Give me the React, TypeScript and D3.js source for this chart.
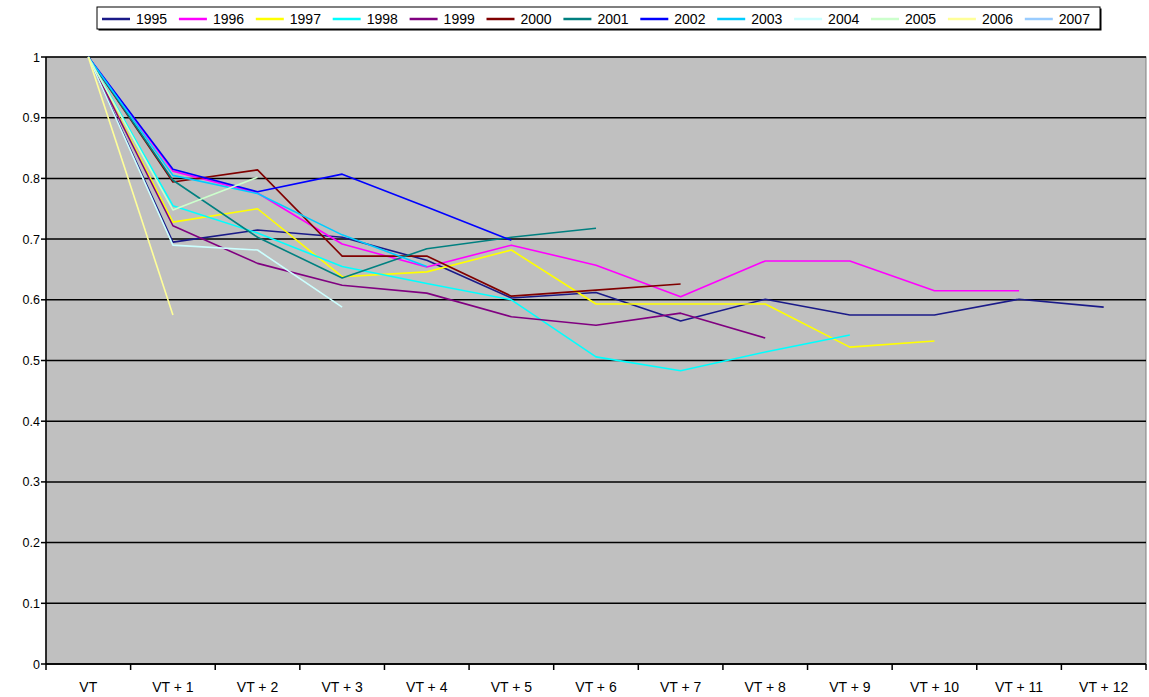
import React from "react";
import * as d3 from "d3";

const categories = ["VT", "VT+1", "VT+2", "VT+3", "VT+4", "VT+5", "VT+6", "VT+7", "VT+8", "VT+9", "VT+10", "VT+11", "VT+12"];
const years = ["1995", "1996", "1997", "1998", "1999", "2000", "2001", "2002", "2003", "2004", "2005", "2006", "2007"];
const yTicks = [0, 0.1, 0.2, 0.3, 0.4, 0.5, 0.6, 0.7, 0.8, 0.9, 1];

const s1995 = [1, 0.695, 0.715, 0.703, 0.665, 0.603, 0.612, 0.565, 0.601, 0.575, 0.575, 0.601, 0.588];
const s1996 = [1, 0.812, 0.776, 0.692, 0.654, 0.69, 0.657, 0.605, 0.664, 0.664, 0.615, 0.615];
const s1997 = [1, 0.728, 0.75, 0.638, 0.646, 0.682, 0.593, 0.593, 0.593, 0.522, 0.532];
const s1998 = [1, 0.755, 0.71, 0.655, 0.627, 0.6, 0.506, 0.483, 0.514, 0.542];
const s1999 = [1, 0.722, 0.66, 0.624, 0.611, 0.572, 0.558, 0.578, 0.537];
const s2000 = [1, 0.794, 0.814, 0.672, 0.672, 0.606, 0.616, 0.626];
const s2001 = [1, 0.797, 0.703, 0.636, 0.684, 0.703, 0.718];
const s2002 = [1, 0.815, 0.778, 0.807, 0.753, 0.698];
const s2003 = [1, 0.805, 0.775, 0.707, 0.655];
const s2004 = [1, 0.69, 0.682, 0.588];
const s2005 = [1, 0.748, 0.802];
const s2006 = [1, 0.575];
const s2007 = [1];

const seriesValues = [s1995, s1996, s1997, s1998, s1999, s2000, s2001, s2002, s2003, s2004, s2005, s2006, s2007];
const colors = ["#1a1a88", "#FF00FF", "#FFFF00", "#00FFFF", "#800080", "#800000", "#008080", "#0000FF", "#00CCFF", "#CCFFFF", "#CCFFCC", "#FFFF99", "#99CCFF"];

const W = 1149;
const H = 697;
const plotLeft = 46;
const plotRight = 1146;
const plotTop = 57;
const plotBottom = 664;
const font = "'Liberation Sans', Arial, sans-serif";

export default function App() {
  const x = d3.scaleBand<string>().domain(categories).range([plotLeft, plotRight]).padding(0);
  const y = d3.scaleLinear().domain([0, 1]).range([plotBottom, plotTop]);
  const cx = (c: string) => (x(c) as number) + x.bandwidth() / 2;
  const line = d3
    .line<number>()
    .x((_, i) => cx(categories[i]))
    .y((d) => y(d));

  const legLeft = 97;
  const legTop = 7;
  const legW = 1003;
  const legH = 22;
  const itemW = 76.9;

  return (
    <svg width={W} height={H} style={{ position: "absolute", left: 0, top: 0, background: "#fff" }}>
      {/* plot area */}
      <rect x={plotLeft} y={plotTop} width={plotRight - plotLeft} height={plotBottom - plotTop} fill="#C0C0C0" stroke="#808080" strokeWidth={1} />
      {/* gridlines */}
      {yTicks.map((t) => (
        <line key={"g" + t} x1={plotLeft} x2={plotRight} y1={y(t)} y2={y(t)} stroke="#000" strokeWidth={1.5} />
      ))}
      {/* series */}
      {seriesValues.map((vals, i) =>
        vals.length > 1 ? (
          <path key={years[i]} d={line(vals) as string} fill="none" stroke={colors[i]} strokeWidth={1.6} strokeLinejoin="round" />
        ) : null
      )}
      {/* y axis */}
      <line x1={plotLeft} x2={plotLeft} y1={plotTop} y2={plotBottom} stroke="#000" strokeWidth={1.5} />
      {yTicks.map((t) => (
        <g key={"yt" + t}>
          <line x1={plotLeft - 5} x2={plotLeft} y1={y(t)} y2={y(t)} stroke="#000" strokeWidth={1.5} />
          <text x={plotLeft - 6} y={y(t) + 4.5} textAnchor="end" fontFamily={font} fontSize={12.5} fill="#000">
            {d3.format("")(t)}
          </text>
        </g>
      ))}
      {/* x axis */}
      <line x1={plotLeft} x2={plotRight} y1={plotBottom} y2={plotBottom} stroke="#000" strokeWidth={1.5} />
      {categories.map((c) => (
        <line key={"xt" + c} x1={x(c) as number} x2={x(c) as number} y1={plotBottom} y2={plotBottom + 6} stroke="#000" strokeWidth={1.5} />
      ))}
      <line x1={plotRight} x2={plotRight} y1={plotBottom} y2={plotBottom + 6} stroke="#000" strokeWidth={1.5} />
      {categories.map((c) => (
        <text key={"xl" + c} x={cx(c)} y={692} textAnchor="middle" fontFamily={font} fontSize={14} fill="#000">
          {c.replace("+", " + ")}
        </text>
      ))}
      {/* legend */}
      <rect x={legLeft + 1.5} y={legTop + 1.5} width={legW} height={legH} fill="#000" />
      <rect x={legLeft} y={legTop} width={legW} height={legH} fill="#fff" stroke="#000" strokeWidth={1} />
      {years.map((yr, i) => {
        const ix = legLeft + i * itemW;
        return (
          <g key={"lg" + yr}>
            <line x1={ix + 5} x2={ix + 33} y1={legTop + 12} y2={legTop + 12} stroke={colors[i]} strokeWidth={2.5} />
            <text x={ix + 39} y={legTop + 17} fontFamily={font} fontSize={14} fill="#000">
              {yr}
            </text>
          </g>
        );
      })}
    </svg>
  );
}
